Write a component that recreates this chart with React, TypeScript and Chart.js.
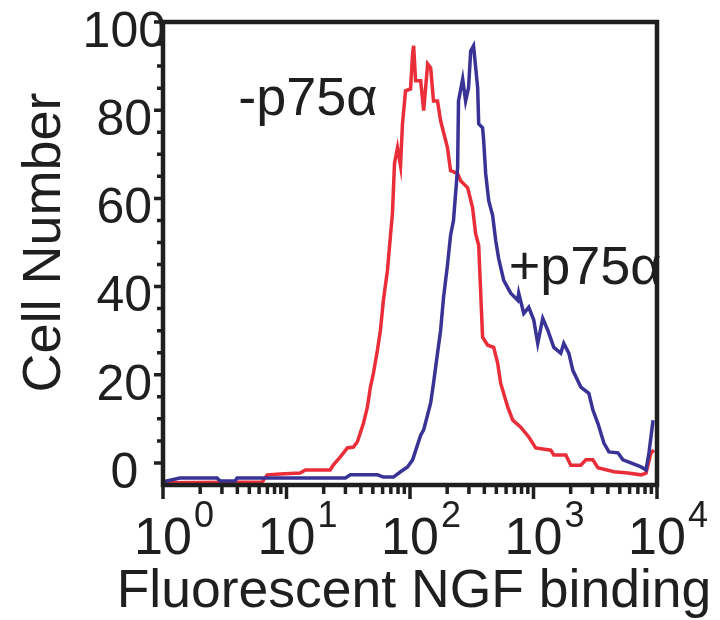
import { useEffect, useRef } from 'react';
import { Chart, registerables } from 'chart.js';

Chart.register(...registerables);

// ---- data ----
const redX = [1, 6.36, 6.98, 8.9, 12.9, 14.2, 22.6, 23.9, 27.3, 31.1, 34.8, 37.5, 42.0, 45.2, 47.8, 50.6, 54.5, 57.6, 60.9, 65.7, 69.5, 72.1, 74.9, 79.2, 83.8, 86.9, 92.0, 101, 105, 107, 111, 122, 129, 139, 147, 155, 167, 177, 201, 213, 243, 257, 293, 321, 340, 360, 373, 387, 426, 476, 513, 542, 618, 679, 788, 915, 1042, 1380, 1460, 1827, 2005, 2417, 2654, 3027, 3321, 4480, 5816, 7418, 8144, 8940, 9460];
const redY = [-4.5, -4.3, -2.7, -2.5, -2.3, -1.6, -1.6, -0.5, 1.4, 3.4, 3.6, 4.8, 9.0, 12.7, 17.2, 20.4, 25.6, 30.1, 36.9, 43.7, 51.6, 56.6, 67.9, 71.5, 67.4, 76.9, 84.4, 84.8, 92.8, 94.6, 86.7, 86.7, 79.9, 90.5, 89.6, 82.1, 82.1, 77.6, 71.5, 66.3, 65.6, 64.0, 62.4, 57.9, 52.0, 49.3, 39.1, 28.5, 26.7, 26.2, 22.6, 18.1, 12.7, 9.7, 8.1, 5.9, 3.4, 2.9, 1.8, 1.8, -0.5, -0.5, 0.7, 0.7, -1.1, -2.0, -2.3, -2.7, -2.3, 2.3, 2.9];

const blueX = [1, 1.37, 2.74, 2.9, 3.84, 3.98, 30.0, 32.9, 54.5, 60.9, 73.5, 83.8, 95.5, 105, 115, 122, 129, 147, 155, 167, 177, 187, 201, 213, 225, 243, 247, 267, 282, 298, 310, 327, 353, 360, 387, 395, 410, 434, 467, 494, 522, 574, 654, 745, 759, 834, 915, 1005, 1082, 1188, 1305, 1460, 1663, 1758, 1932, 2082, 2417, 2806, 3027, 3321, 3716, 4080, 4826, 5297, 6150, 7418, 8144, 8610, 9290];
const blueY = [-4.3, -3.4, -3.4, -4.1, -4.1, -3.4, -3.4, -2.7, -2.7, -3.2, -3.2, -2.0, -0.9, 0.7, 4.1, 6.3, 7.5, 13.6, 18.1, 24.9, 30.1, 37.6, 44.8, 51.6, 55.0, 67.0, 82.1, 87.1, 82.1, 85.1, 93.4, 94.6, 85.1, 76.9, 76.0, 73.1, 65.6, 59.5, 56.1, 50.5, 46.4, 41.4, 38.5, 36.9, 38.5, 33.9, 35.3, 32.4, 27.1, 32.8, 30.1, 26.2, 24.9, 27.1, 24.9, 21.0, 17.2, 15.8, 12.0, 9.0, 4.5, 2.5, 2.3, 0.7, 0.0, -0.9, -1.6, 2.3, 9.7];

const yTickValues = [0, 20, 40, 60, 80, 100];
const xDecades = [1, 10, 100, 1000, 10000];
const xExponents = ['0', '1', '2', '3', '4'];
const xTitle = 'Fluorescent NGF binding';
const yTitle = 'Cell Number';
const seriesLabels = ['-p75\u03B1', '+p75\u03B1'];
const seriesLabelAt = [
  { x: 4.06, y: 78.9 },
  { x: 630, y: 40.6 },
];

const FONT = '"Liberation Sans", Arial, Helvetica, sans-serif';
const INK = '#1f1f1f';
const RED = '#ea2e39';
const BLUE = '#3a3396';

const decor = {
  id: 'decor',
  afterDatasetsDraw(chart: any) {
    const { ctx, chartArea: a, scales } = chart;
    const x = scales.x;
    const y = scales.y;
    ctx.save();
    ctx.strokeStyle = INK;
    ctx.lineCap = 'butt';
    // y tick marks (major every 20, minor every 5)
    ctx.lineWidth = 3.5;
    ctx.beginPath();
    for (let v = 0; v <= 100; v += 5) {
      const py = y.getPixelForValue(v);
      const len = v % 20 === 0 ? 9 : 6;
      ctx.moveTo(a.left, py);
      ctx.lineTo(a.left - len, py);
    }
    // x tick marks (log decades + minors)
    for (let d = 0; d < xDecades.length; d++) {
      const base = xDecades[d];
      const maxM = d === xDecades.length - 1 ? 1 : 9;
      for (let m = 1; m <= maxM; m++) {
        const px = x.getPixelForValue(base * m);
        const len = m === 1 ? 14 : 9;
        ctx.moveTo(px, a.bottom);
        ctx.lineTo(px, a.bottom + len);
      }
    }
    ctx.stroke();
    // frame
    ctx.lineWidth = 4.5;
    ctx.strokeRect(a.left, a.top, a.right - a.left, a.bottom - a.top);
    ctx.restore();
  },
  afterDraw(chart: any) {
    const { ctx, chartArea: a, scales } = chart;
    const x = scales.x;
    const y = scales.y;
    ctx.save();
    ctx.fillStyle = INK;
    // superscript exponents next to "10"
    ctx.font = `52px ${FONT}`;
    const w10 = ctx.measureText('10').width;
    ctx.font = `36px ${FONT}`;
    ctx.textAlign = 'left';
    ctx.textBaseline = 'alphabetic';
    xDecades.forEach((v, i) => {
      const px = x.getPixelForValue(v);
      ctx.fillText(xExponents[i], px + w10 / 2 + 2, a.bottom + 42);
    });
    // x title
    ctx.font = `53.5px ${FONT}`;
    ctx.textAlign = 'center';
    ctx.fillText(xTitle, (a.left + a.right) / 2 + 4, a.bottom + 122);
    // y title
    ctx.save();
    ctx.translate(60, y.getPixelForValue(50));
    ctx.rotate(-Math.PI / 2);
    ctx.font = `54px ${FONT}`;
    ctx.textAlign = 'center';
    ctx.fillText(yTitle, 0, 0);
    ctx.restore();
    // series labels
    ctx.font = `54px ${FONT}`;
    ctx.textAlign = 'left';
    seriesLabels.forEach((t, i) => {
      const p = seriesLabelAt[i];
      ctx.fillText(t, x.getPixelForValue(p.x), y.getPixelForValue(p.y));
    });
    ctx.restore();
  },
};

export default function App() {
  const ref = useRef<HTMLCanvasElement | null>(null);
  useEffect(() => {
    if (!ref.current) return;
    const chart = new Chart(ref.current, {
      type: 'line',
      data: {
        datasets: [
          {
            label: seriesLabels[1],
            data: blueX.map((v, i) => ({ x: v, y: blueY[i] })),
            borderColor: BLUE,
            borderWidth: 3.5,
            pointRadius: 0,
            tension: 0,
            fill: false,
          },
          {
            label: seriesLabels[0],
            data: redX.map((v, i) => ({ x: v, y: redY[i] })),
            borderColor: RED,
            borderWidth: 3.5,
            pointRadius: 0,
            tension: 0,
            fill: false,
          },
        ],
      },
      options: {
        responsive: false,
        animation: false,
        layout: { padding: { top: 22, right: 63, left: 0, bottom: 0 } },
        plugins: { legend: { display: false }, tooltip: { enabled: false } },
        scales: {
          x: {
            type: 'logarithmic',
            min: 1,
            max: 10000,
            grid: { display: false },
            border: { display: false },
            afterBuildTicks: (s: any) => {
              s.ticks = xDecades.map((v) => ({ value: v, major: true }));
            },
            afterFit: (s: any) => {
              s.height = 135;
            },
            ticks: {
              autoSkip: false,
              maxRotation: 0,
              minRotation: 0,
              padding: 15,
              color: INK,
              font: { family: FONT, size: 52 },
              callback: () => '10',
            },
          },
          y: {
            type: 'linear',
            min: -5,
            max: 100,
            grid: { display: false },
            border: { display: false },
            afterBuildTicks: (s: any) => {
              s.ticks = yTickValues.map((v) => ({ value: v }));
            },
            afterFit: (s: any) => {
              s.width = 163;
            },
            ticks: {
              crossAlign: 'center',
              padding: -11,
              labelOffset: 11,
              color: INK,
              font: { family: FONT, size: 50 },
              callback: (v: any) => String(v),
            },
          },
        },
      },
      plugins: [decor],
    } as any);
    return () => chart.destroy();
  }, []);
  return (
    <div style={{ position: 'fixed', left: 0, top: 0, width: 720, height: 620, background: '#fff' }}>
      <canvas ref={ref} width={720} height={620} style={{ display: 'block' }} />
    </div>
  );
}
